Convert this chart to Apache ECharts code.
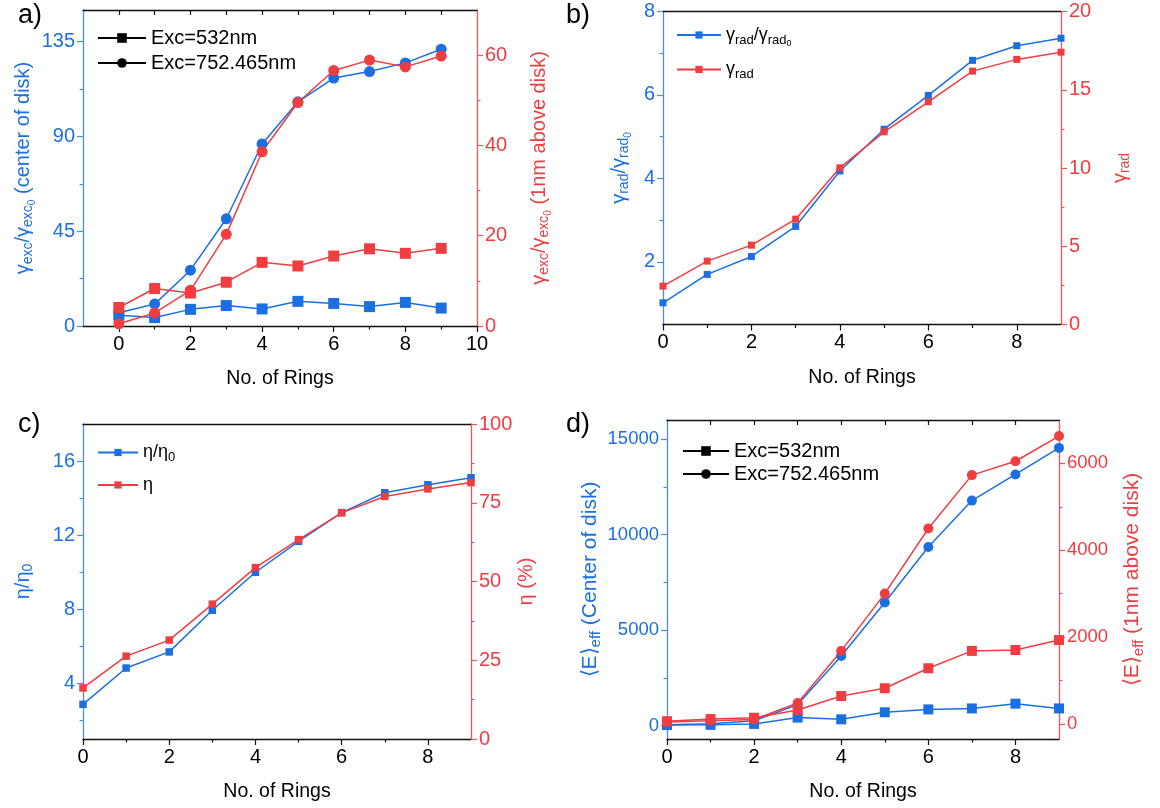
<!DOCTYPE html>
<html><head><meta charset="utf-8">
<script src="https://cdn.jsdelivr.net/npm/echarts@6/dist/echarts.min.js"></script>
<style>html,body{margin:0;padding:0;background:#fff}#c{width:1160px;height:808px}</style>
</head><body><div id="c"></div>
<script>
// ---------------- data ----------------
const rings = [0, 1, 2, 3, 4, 5, 6, 7, 8, 9];
// panel a
const aCenter532 = [5.1, 4.0, 7.9, 9.7, 8.1, 11.7, 10.7, 9.2, 11.2, 8.5];
const aCenter752 = [6.3, 10.4, 26.5, 50.9, 86.4, 106.4, 117.7, 120.8, 124.9, 131.4];
const aAbove532 = [4.1, 8.3, 7.3, 9.7, 14.1, 13.3, 15.5, 17.1, 16.1, 17.2];
const aAbove752 = [0.5, 2.9, 7.9, 20.3, 38.6, 49.5, 56.6, 58.9, 57.4, 59.8];
// panel b
const bRadRatio = [1.02, 1.70, 2.13, 2.85, 4.18, 5.18, 5.99, 6.83, 7.18, 7.36];
const bRad = [2.45, 4.05, 5.07, 6.73, 10.01, 12.31, 14.23, 16.19, 16.94, 17.4];
// panel c
const cEtaRatio = [2.87, 4.83, 5.70, 7.95, 10.0, 11.67, 13.22, 14.29, 14.72, 15.1];
const cEta = [16.2, 26.3, 31.4, 42.8, 54.4, 63.3, 71.8, 77.0, 79.4, 81.4];
// panel d
const dCenter532 = [30, 40, 90, 420, 330, 700, 850, 900, 1150, 900];
const dCenter752 = [50, 100, 250, 1100, 3650, 6450, 9350, 11780, 13150, 14540];
const dAbove532 = [60, 110, 140, 320, 640, 820, 1280, 1680, 1700, 1930];
const dAbove752 = [40, 70, 100, 480, 1680, 3000, 4500, 5730, 6050, 6630];

// tick values / labels
const aXMajor = [0, 2, 4, 6, 8, 10], aXMinor = [1, 3, 5, 7, 9], aXTop = [0, 1, 2, 3, 4, 5, 6, 7, 8, 9];
const aYLMajor = [0, 45, 90, 135], aYLMinor = [22.5, 67.5, 112.5];
const aYRMajor = [0, 20, 40, 60], aYRMinor = [10, 30, 50];
const bXMajor = [0, 2, 4, 6, 8], bXMinor = [1, 3, 5, 7];
const bYLMajor = [2, 4, 6, 8], bYLMinor = [1, 3, 5, 7];
const bYRMajor = [0, 5, 10, 15, 20], bYRMinor = [2.5, 7.5, 12.5, 17.5];
const cXMajor = [0, 2, 4, 6, 8], cXMinor = [1, 3, 5, 7];
const cYLMajor = [4, 8, 12, 16], cYLMinor = [2, 6, 10, 14];
const cYRMajor = [0, 25, 50, 75, 100], cYRMinor = [12.5, 37.5, 62.5, 87.5];
const dXMajor = [0, 2, 4, 6, 8], dXMinor = [1, 3, 5, 7], dXTop = [1, 2, 3, 4, 5, 6, 7, 8];
const dYLMajor = [0, 5000, 10000, 15000], dYLMinor = [2500, 7500, 12500];
const dYRMajor = [0, 2000, 4000, 6000], dYRMinor = [1000, 3000, 5000];

// ---------------- styles ----------------
const FONT = '"Liberation Sans", Arial, Helvetica, sans-serif';
const BLUE = '#1c6fe0', RED = '#ef3d42';
const BLUE_AX = '#4a8de6', RED_AX = '#f0555a';

function pairs(ys) { return rings.map((x, i) => [x, ys[i]]); }
function rich(size, color) {
  return {
    g: {fontSize: size, lineHeight: size + 6, color: color, fontFamily: FONT},
    s: {fontSize: Math.round(size * 0.7), lineHeight: Math.round(size * 0.7), padding: [Math.round(size * 0.55), 0, 0, 0], color: color, fontFamily: FONT},
    ss: {fontSize: Math.round(size * 0.52), lineHeight: Math.round(size * 0.52), padding: [Math.round(size * 0.95), 0, 0, 0], color: color, fontFamily: FONT}
  };
}

const panels = [
  {rect: {left: 83, top: 10, width: 394, height: 316}, xmin: -1, xmax: 10, xMajor: aXMajor, xMinor: aXMinor, xTop: aXTop, lab: 20, nm: 20,
   yl: {min: 0, max: 150, major: aYLMajor, minor: aYLMinor, name: '{g|γ}{s|exc}{g|/γ}{s|exc}{ss|0}{g| (center of disk)}', gap: 47},
   yr: {min: 0, max: 70, major: aYRMajor, minor: aYRMinor, name: '{g|γ}{s|exc}{g|/γ}{s|exc}{ss|0}{g| (1nm above disk)}', gap: 49}},
  {rect: {left: 663, top: 11.5, width: 398, height: 313}, xmin: 0, xmax: 9, xMajor: bXMajor, xMinor: bXMinor, xTop: null, lab: 20, nm: 20,
   yl: {min: 0.5, max: 8, major: bYLMajor, minor: bYLMinor, name: '{g|γ}{s|rad}{g|/γ}{s|rad}{ss|0}', gap: 31},
   yr: {min: 0, max: 20, major: bYRMajor, minor: bYRMinor, name: '{g|γ}{s|rad}', gap: 46}},
  {rect: {left: 83, top: 424, width: 388, height: 315}, xmin: 0, xmax: 9, xMajor: cXMajor, xMinor: cXMinor, xTop: null, lab: 20, nm: 20,
   yl: {min: 1, max: 18, major: cYLMajor, minor: cYLMinor, name: '{g|η/η}{s|0}', gap: 47},
   yr: {min: 0, max: 100, major: cYRMajor, minor: cYRMinor, name: '{g|η (%)}', gap: 30}},
  {rect: {left: 667, top: 420, width: 392, height: 319}, xmin: 0, xmax: 9, xMajor: dXMajor, xMinor: dXMinor, xTop: dXTop, lab: 18.5, nm: 21,
   yl: {min: -700, max: 16000, major: dYLMajor, minor: dYLMinor, name: '{g|⟨E⟩}{s|eff}{g| (Center of disk)}', gap: 56},
   yr: {min: -350, max: 7000, major: dYRMajor, minor: dYRMinor, name: '{g|⟨E⟩}{s|eff}{g| (1nm above disk)}', gap: 60}}
];

const grid = [], xAxis = [], yAxis = [];
const idx = [];
panels.forEach(p => { grid.push(Object.assign({outerBoundsMode: 'none', containLabel: false}, p.rect)); });
panels.forEach(p => { grid.push(Object.assign({outerBoundsMode: 'none', containLabel: false}, p.rect)); });
const plain = v => String(v);
panels.forEach((p, i) => {
  const ix = {};
  ix.x = xAxis.length;
  xAxis.push({gridIndex: i, type: 'value', min: p.xmin, max: p.xmax, position: 'bottom',
    axisLine: {show: true, onZero: false, lineStyle: {color: '#111', width: 1.3}},
    axisTick: {show: true, customValues: p.xMajor, length: 6, lineStyle: {color: '#111', width: 1.2}},
    axisLabel: {show: true, customValues: p.xMajor, formatter: plain, fontSize: 20, color: '#000', margin: 8, fontFamily: FONT},
    splitLine: {show: false},
    name: 'No. of Rings', nameLocation: 'middle', nameGap: 43,
    nameTextStyle: {fontSize: 19.5, color: '#000', fontFamily: FONT}});
  xAxis.push({gridIndex: i, type: 'value', min: p.xmin, max: p.xmax, position: 'top',
    axisLine: {show: true, onZero: false, lineStyle: {color: '#111', width: 1.3}},
    axisTick: {show: !!p.xTop, inside: true, customValues: p.xTop || [], length: 5, lineStyle: {color: '#111', width: 1.2}},
    axisLabel: {show: false}, splitLine: {show: false}});
  ix.yl = yAxis.length;
  yAxis.push({gridIndex: i, type: 'value', min: p.yl.min, max: p.yl.max, position: 'left',
    axisLine: {show: true, onZero: false, lineStyle: {color: BLUE_AX, width: 1.3}},
    axisTick: {show: true, customValues: p.yl.major, length: 6, lineStyle: {color: BLUE_AX, width: 1.2}},
    axisLabel: {show: true, customValues: p.yl.major, formatter: plain, fontSize: p.lab, color: BLUE, margin: 8, fontFamily: FONT},
    splitLine: {show: false},
    name: p.yl.name, nameLocation: 'middle', nameRotate: 90, nameGap: p.yl.gap,
    nameTextStyle: {rich: rich(p.nm, BLUE)}});
  ix.yr = yAxis.length;
  yAxis.push({gridIndex: i, type: 'value', min: p.yr.min, max: p.yr.max, position: 'right',
    axisLine: {show: true, onZero: false, lineStyle: {color: RED_AX, width: 1.3}},
    axisTick: {show: true, customValues: p.yr.major, length: 6, lineStyle: {color: RED_AX, width: 1.2}},
    axisLabel: {show: true, customValues: p.yr.major, formatter: plain, fontSize: p.lab, color: RED, margin: 8, fontFamily: FONT},
    splitLine: {show: false},
    name: p.yr.name, nameLocation: 'middle', nameRotate: 90, nameGap: p.yr.gap,
    nameTextStyle: {rich: rich(p.nm, RED)}});
  idx.push(ix);
});
// overlay grids: minor ticks
panels.forEach((p, i) => {
  const g = i + 4;
  xAxis.push({gridIndex: g, type: 'value', min: p.xmin, max: p.xmax, position: 'bottom',
    axisLine: {show: false, onZero: false}, axisTick: {show: true, customValues: p.xMinor, length: 3.5, lineStyle: {color: '#111', width: 1.2}},
    axisLabel: {show: false}, splitLine: {show: false}});
  yAxis.push({gridIndex: g, type: 'value', min: p.yl.min, max: p.yl.max, position: 'left',
    axisLine: {show: false, onZero: false}, axisTick: {show: true, customValues: p.yl.minor, length: 3.5, lineStyle: {color: BLUE_AX, width: 1.2}},
    axisLabel: {show: false}, splitLine: {show: false}});
  yAxis.push({gridIndex: g, type: 'value', min: p.yr.min, max: p.yr.max, position: 'right',
    axisLine: {show: false, onZero: false}, axisTick: {show: true, customValues: p.yr.minor, length: 3.5, lineStyle: {color: RED_AX, width: 1.2}},
    axisLabel: {show: false}, splitLine: {show: false}});
});

function line(name, panel, side, ys, color, symbol, size) {
  return {name: name, type: 'line', xAxisIndex: idx[panel].x, yAxisIndex: side === 'l' ? idx[panel].yl : idx[panel].yr,
    data: pairs(ys), symbol: symbol, symbolSize: size, showSymbol: true,
    itemStyle: {color: color}, lineStyle: {color: color, width: 1.5}, emphasis: {disabled: true}, animation: false};
}
function dummy(name, panel, symbol) {
  return {name: name, type: 'line', xAxisIndex: idx[panel].x, yAxisIndex: idx[panel].yl, data: [],
    symbol: symbol, itemStyle: {color: '#000'}, lineStyle: {color: '#000', width: 1.5}, animation: false};
}

const series = [
  line('a532c', 0, 'l', aCenter532, BLUE, 'rect', 11),
  line('a752c', 0, 'l', aCenter752, BLUE, 'circle', 11),
  line('a532a', 0, 'r', aAbove532, RED, 'rect', 11),
  line('a752a', 0, 'r', aAbove752, RED, 'circle', 11),
  dummy('Exc=532nm', 0, 'rect'),
  dummy('Exc=752.465nm', 0, 'circle'),
  line('bRatio', 1, 'l', bRadRatio, BLUE, 'rect', 7),
  line('bRad', 1, 'r', bRad, RED, 'rect', 7),
  line('cRatio', 2, 'l', cEtaRatio, BLUE, 'rect', 7.5),
  line('cEta', 2, 'r', cEta, RED, 'rect', 7.5),
  line('d532c', 3, 'l', dCenter532, BLUE, 'rect', 10),
  line('d752c', 3, 'l', dCenter752, BLUE, 'circle', 10),
  line('d532a', 3, 'r', dAbove532, RED, 'rect', 10),
  line('d752a', 3, 'r', dAbove752, RED, 'circle', 10),
  dummy('Exc=532nm ', 3, 'rect'),
  dummy('Exc=752.465nm ', 3, 'circle')
];

const legendNames = {bRatio: '{g|γ}{s|rad}{g|/γ}{s|rad}{ss|0}', bRad: '{g|γ}{s|rad}', cRatio: '{g|η/η}{s|0}', cEta: '{g|η}'};
function lg(data, left, top, w, h, gap, size) {
  return {data: data, orient: 'vertical', left: left, top: top, itemWidth: w, itemHeight: h, itemGap: gap, padding: 0,
    selectedMode: false, formatter: n => legendNames[n] || ('{g|' + n.trim() + '}'),
    textStyle: {fontSize: size, color: '#000', fontFamily: FONT, rich: rich(size, '#000')}};
}

const option = {
  backgroundColor: '#fff',
  animation: false,
  title: [
    {text: 'a)', left: 18, top: 2, padding: 0, textStyle: {fontSize: 27, fontWeight: 'normal', color: '#000', fontFamily: FONT}},
    {text: 'b)', left: 566, top: 2, padding: 0, textStyle: {fontSize: 27, fontWeight: 'normal', color: '#000', fontFamily: FONT}},
    {text: 'c)', left: 18, top: 411, padding: 0, textStyle: {fontSize: 27, fontWeight: 'normal', color: '#000', fontFamily: FONT}},
    {text: 'd)', left: 566, top: 411, padding: 0, textStyle: {fontSize: 27, fontWeight: 'normal', color: '#000', fontFamily: FONT}}
  ],
  legend: [
    lg(['Exc=532nm', 'Exc=752.465nm'], 97, 28, 48, 12, 5, 20),
    lg(['bRatio', 'bRad'], 676, 22, 44, 9, 10, 18),
    lg(['cRatio', 'cEta'], 97, 441, 40, 9, 12, 18),
    lg(['Exc=532nm ', 'Exc=752.465nm '], 682, 441, 46, 12, 3, 20)
  ],
  grid: grid, xAxis: xAxis, yAxis: yAxis, series: series
};
const chart = echarts.init(document.getElementById('c'), null, {renderer: 'canvas'});
chart.setOption(option);
</script></body></html>
